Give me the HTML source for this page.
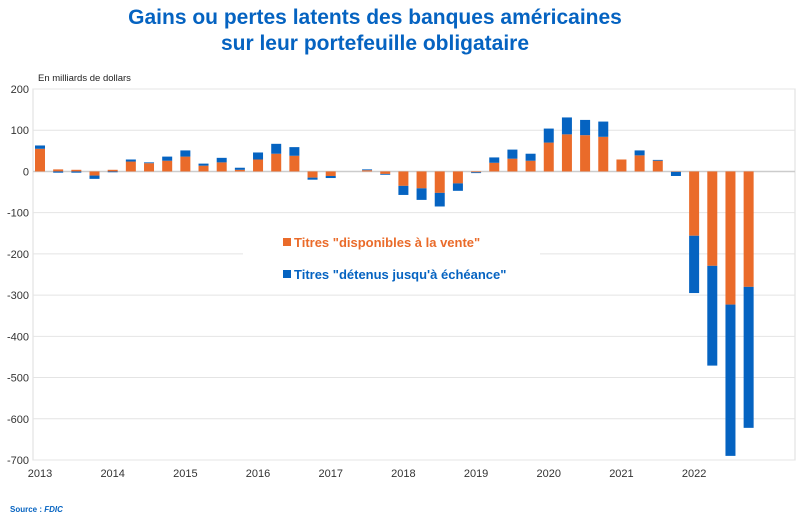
<!DOCTYPE html>
<html><head><meta charset="utf-8"><style>
body{margin:0;width:808px;height:521px;background:#fff;overflow:hidden;font-family:"Liberation Sans",sans-serif}
svg{position:absolute;left:0;top:0}
</style></head><body>
<svg id="c" width="808" height="521">
<text x="375" y="24" text-anchor="middle" font-size="21" font-weight="bold" fill="#0563c1">Gains ou pertes latents des banques américaines</text>
<text x="375" y="50" text-anchor="middle" font-size="21" font-weight="bold" fill="#0563c1">sur leur portefeuille obligataire</text>
<text x="38" y="81" font-size="9.5" fill="#222">En milliards de dollars</text>
<text x="10" y="512" font-size="8" font-weight="bold" fill="#0563c1">Source : <tspan font-style="italic">FDIC</tspan></text>
<g id="grid"></g><g id="bars"></g><g id="axes"></g>
<rect x="243" y="226" width="297" height="64" fill="#fff"/>
<rect x="283" y="238" width="8" height="8" fill="#ea6b2a"/>
<text x="294" y="247" font-size="13" font-weight="bold" fill="#ea6b2a">Titres "disponibles à la vente"</text>
<rect x="283" y="270" width="8" height="8" fill="#0563c1"/>
<text x="294" y="279" font-size="13" font-weight="bold" fill="#0563c1">Titres "détenus jusqu'à échéance"</text>
</svg>
<script>
const years=["2013","2014","2015","2016","2017","2018","2019","2020","2021","2022"];
const yTicks=[200,100,0,-100,-200,-300,-400,-500,-600,-700];
const afs=[55,5,4,-10,4,24,20,26,36,14,22,4,29,43,38,-15,-11,0,3,-6,-35,-41,-52,-29,-2,21,31,26,70,90,88,84,29,39,26,-1,-156,-229,-323,-280];
const htm=[8,-3,-3,-8,-2,5,2,10,15,5,11,5,17,24,21,-5,-5,0,2,-2,-22,-28,-33,-18,-2,13,22,17,34,41,37,37,0,12,2,-10,-139,-242,-367,-342];
const NS="http://www.w3.org/2000/svg";
const x0=40,dx=18.17,yTop=89,yBot=460;
function Y(v){return yTop+(200-v)*(yBot-yTop)/900;}
function X(i){return x0+i*dx;}
function mk(t,a,p){const e=document.createElementNS(NS,t);for(const k in a)e.setAttribute(k,a[k]);p.appendChild(e);return e;}
const grid=document.getElementById('grid'),bars=document.getElementById('bars'),axes=document.getElementById('axes');
mk('rect',{x:33,y:yTop,width:762,height:yBot-yTop,fill:'none',stroke:'#ddd'},grid);
yTicks.forEach(v=>{
 const l=mk('line',{x1:33,x2:795,y1:Y(v),y2:Y(v),stroke:v===0?'#ccc':'#e4e4e4','stroke-width':v===0?1.5:1},grid);
 
 
 const t=mk('text',{x:29,y:Y(v)+4,'text-anchor':'end','font-size':11,fill:'#333'},axes);
 t.textContent=v;
 
 
});
years.forEach((y,i)=>{
 const t=mk('text',{x:X(i*4),y:477,'text-anchor':'middle','font-size':11,fill:'#333'},axes);
 t.textContent=y;
 
 
});
for(let i=0;i<afs.length;i++){
 const a=afs[i],h=htm[i],w=10,cx=X(i);
 const r1=mk('rect',{x:cx-w/2,y:Math.min(Y(0),Y(a)),width:w,height:Math.abs(Y(a)-Y(0)),fill:'#ea6b2a'},bars);
 
 
 const base=(h*a>0)?a:0;
 const r2=mk('rect',{x:cx-w/2,y:Math.min(Y(base),Y(base+h)),width:w,height:Math.abs(Y(base+h)-Y(base)),fill:'#0563c1'},bars);
 
 
}
</script>
</body></html>
